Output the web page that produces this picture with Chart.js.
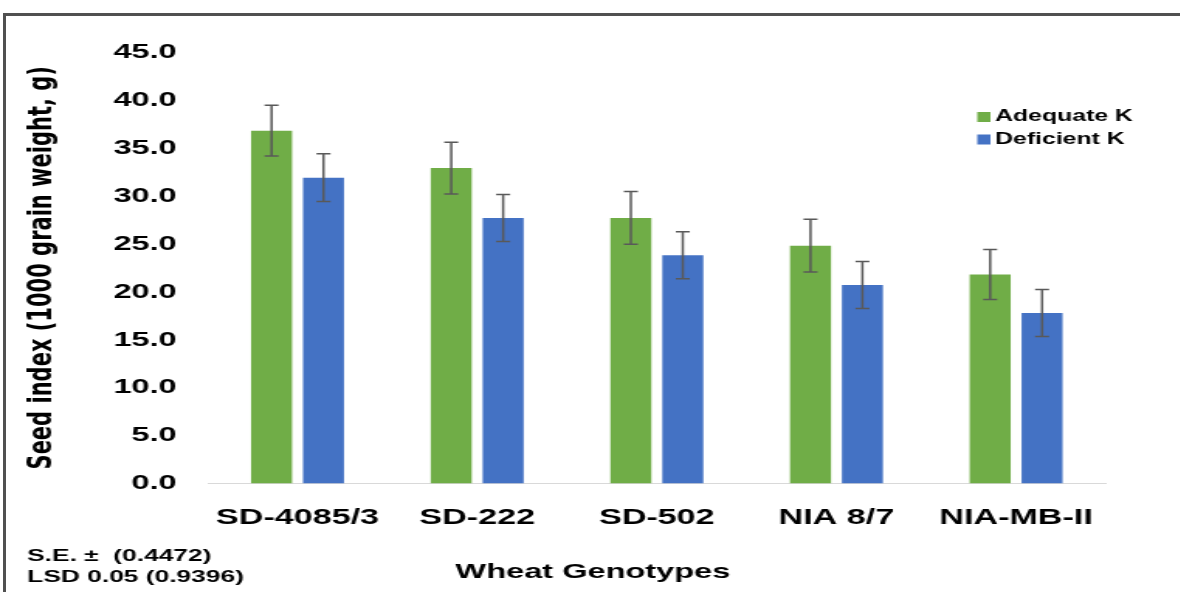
<!DOCTYPE html>
<html>
<head>
<meta charset="utf-8">
<script src="https://cdn.jsdelivr.net/npm/chart.js@4.4.1/dist/chart.umd.min.js"></script>
<style>
    html, body { margin: 0; padding: 0; background: #fff; overflow: hidden; }
    #wrap { position: relative; width: 1180px; height: 592px; }
    #seedChart { position: absolute; left: 0; top: 0; transform: scaleX(1.55); transform-origin: 0 0; }
    #frame { position: absolute; left: 3px; top: 13px; width: 1300px; height: 700px; border: 3px solid #505050; }
</style>
</head>
<body>
<div id="wrap">
    <canvas id="seedChart" width="761" height="592"></canvas>
    <div id="frame"></div>
</div>
<script>
const genotypes = ["SD-4085/3", "SD-222", "SD-502", "NIA 8/7", "NIA-MB-II"];
const adequateK = [36.8, 32.9, 27.7, 24.8, 21.8];
const deficientK = [31.9, 27.7, 23.8, 20.7, 17.8];
const adequateErr = [2.65, 2.7, 2.75, 2.75, 2.6];
const deficientErr = [2.5, 2.45, 2.45, 2.45, 2.45];
const statLines = ["S.E. \u00B1  (0.4472)", "LSD 0.05 (0.9396)"];
const xTitle = "Wheat Genotypes";
const yTitle = "Seed index (1000 grain weight, g)";

const FONT = "'Liberation Sans', Arial, sans-serif";

// error bars, drawn through the y scale
const errorBars = {
    id: "errorBars",
    afterDatasetsDraw(chart) {
        const ctx = chart.ctx;
        const yScale = chart.scales.y;
        ctx.save();
        ctx.strokeStyle = "#595959";
        ctx.lineWidth = 1.5;
        chart.data.datasets.forEach((ds, i) => {
            const meta = chart.getDatasetMeta(i);
            meta.data.forEach((bar, j) => {
                const v = ds.data[j], e = ds.errors[j];
                const top = yScale.getPixelForValue(v + e);
                const bot = yScale.getPixelForValue(v - e);
                ctx.beginPath();
                ctx.moveTo(bar.x, top); ctx.lineTo(bar.x, bot);
                ctx.moveTo(bar.x - 4.5, top); ctx.lineTo(bar.x + 4.5, top);
                ctx.moveTo(bar.x - 4.5, bot); ctx.lineTo(bar.x + 4.5, bot);
                ctx.stroke();
            });
        });
        ctx.restore();
    }
};

// legend inside the plot, plus the bottom texts
const extras = {
    id: "extras",
    afterDraw(chart) {
        const ctx = chart.ctx;
        ctx.save();
        ctx.fillStyle = "#000";
        ctx.textBaseline = "middle";

        chart.data.datasets.forEach((ds, i) => {
            const y = 117 + i * 22.5;
            ctx.fillStyle = ds.backgroundColor;
            ctx.fillRect(630.5, y - 5, 8.5, 10);
            ctx.fillStyle = "#000";
            ctx.font = "bold 16px " + FONT;
            ctx.textAlign = "left";
            ctx.fillText(ds.label, 642, y);
        });

        ctx.font = "bold 21px " + FONT;
        ctx.textAlign = "center";
        ctx.fillText(xTitle, 382.5, 572);

        ctx.font = "bold 17px " + FONT;
        ctx.textAlign = "left";
        statLines.forEach((t, i) => ctx.fillText(t, 17.5, 556 + i * 21.5));
        ctx.restore();
    }
};

new Chart(document.getElementById("seedChart"), {
    type: "bar",
    data: {
        labels: genotypes,
        datasets: [
            { label: "Adequate K", data: adequateK, errors: adequateErr, backgroundColor: "#70AD47" },
            { label: "Deficient K", data: deficientK, errors: deficientErr, backgroundColor: "#4472C4" }
        ]
    },
    options: {
        responsive: false,
        animation: false,
        devicePixelRatio: 1,
        categoryPercentage: 0.578,
        barPercentage: 0.79,
        layout: { padding: { top: 52, right: 47.5, bottom: 48, left: 0 } },
        plugins: { legend: { display: false }, tooltip: { enabled: false } },
        scales: {
            x: {
                grid: { display: false },
                border: { display: true, color: "#d9d9d9", width: 1 },
                ticks: { color: "#000", padding: 13, font: { family: FONT, size: 22, weight: "bold" } }
            },
            y: {
                min: 0, max: 45,
                afterFit(scale) { scale.width = 134; },
                grid: { display: false, drawTicks: false },
                border: { display: false },
                ticks: {
                    stepSize: 5, padding: 20, color: "#000",
                    font: { family: FONT, size: 21, weight: "bold" },
                    callback: v => v.toFixed(1)
                },
                title: {
                    display: true, text: yTitle, color: "#000",
                    padding: { top: 15, bottom: 0 },
                    font: { family: "'DejaVu Sans', sans-serif", size: 21, weight: "bold" }
                }
            }
        }
    },
    plugins: [errorBars, extras]
});
</script>
</body>
</html>
